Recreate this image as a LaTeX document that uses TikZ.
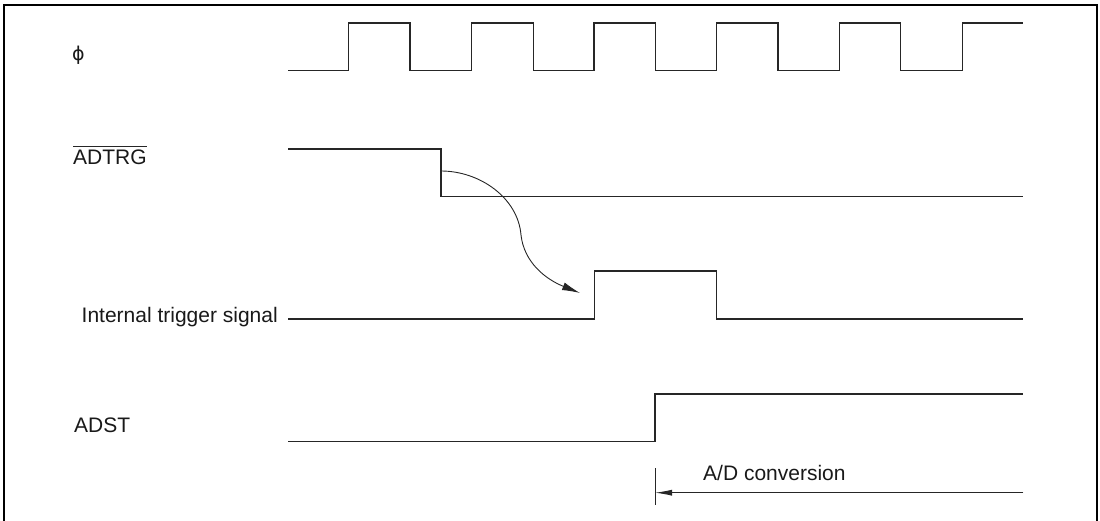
\documentclass[tikz,border=0pt]{standalone}
\usepackage{fontspec}
\setmainfont{Liberation Sans}
\newfontfamily\djv{DejaVu Sans}
\usetikzlibrary{arrows.meta}
\begin{document}
\begin{tikzpicture}[x=1pt,y=-1pt,
  wave/.style={line width=1.3pt,draw=black!85,line join=miter},
  lbl/.style={inner sep=0pt,font=\fontsize{21}{25}\selectfont,text=black!90},
  frame/.style={line width=2pt,draw=black},
  flow/.style={line width=0.9pt,draw=black!85,-{Latex[length=18pt,width=8pt]}},
  dim/.style={line width=0.9pt,draw=black!85,-{Latex[length=17pt,width=6pt]}}]
\useasboundingbox (0,0) rectangle (1100,521);
\draw[frame] (4,5) rectangle (1097,530);
% labels
\node[lbl,font=\djv\fontsize{19}{22}\selectfont] (phi) at (78.5,55) {ϕ};
\node[lbl,anchor=base west] (adtrg) at (73,165) {ADTRG};
\draw[line width=1pt,black!85] ([yshift=4pt]adtrg.north west) -- ([yshift=4pt]adtrg.north east);
\node[lbl,anchor=base east] (its) at (278,323) {Internal trigger signal};
\node[lbl,anchor=base west] (adst) at (74,432) {ADST};
\node[lbl,anchor=base west] (adc) at (703,480) {A/D conversion};
% clock
\draw[wave] (288,70.7) -- (348.7,70.7) -- (348.7,23)
  -- (410,23) -- (410,70.7) -- (471.7,70.7) -- (471.7,23)
  -- (533.3,23) -- (533.3,70.7) -- (594,70.7) -- (594,23)
  -- (655.7,23) -- (655.7,70.7) -- (716.7,70.7) -- (716.7,23)
  -- (778,23) -- (778,70.7) -- (839.3,70.7) -- (839.3,23)
  -- (900.7,23) -- (900.7,70.7) -- (962.3,70.7) -- (962.3,23)
  -- (1023.3,23);
% ADTRG
\draw[wave] (288,149) -- (441,149) -- (441,196.7) -- (1023.3,196.7);
% internal trigger
\draw[wave] (288,319) -- (594.3,319) -- (594.3,271) -- (716.7,271) -- (716.7,319) -- (1023.3,319);
% ADST
\draw[wave] (288,441.7) -- (655,441.7) -- (655,394) -- (1023.3,394);
% causal arrow
\coordinate (cs) at (441,171);
\coordinate (cm) at (521,235);
\coordinate (ce) at (580,293);
\draw[flow] (cs) .. controls (480,171) and (518,198) .. (cm)
  .. controls (524,262) and (545,279) .. (ce);
% A/D conversion
\coordinate (ds) at (1023.3,492.7);
\coordinate (de) at (655,492.7);
\draw[line width=0.9pt,black!85] (655,468) -- (655,505);
\draw[dim] (ds) -- (de);
\end{tikzpicture}
\end{document}
